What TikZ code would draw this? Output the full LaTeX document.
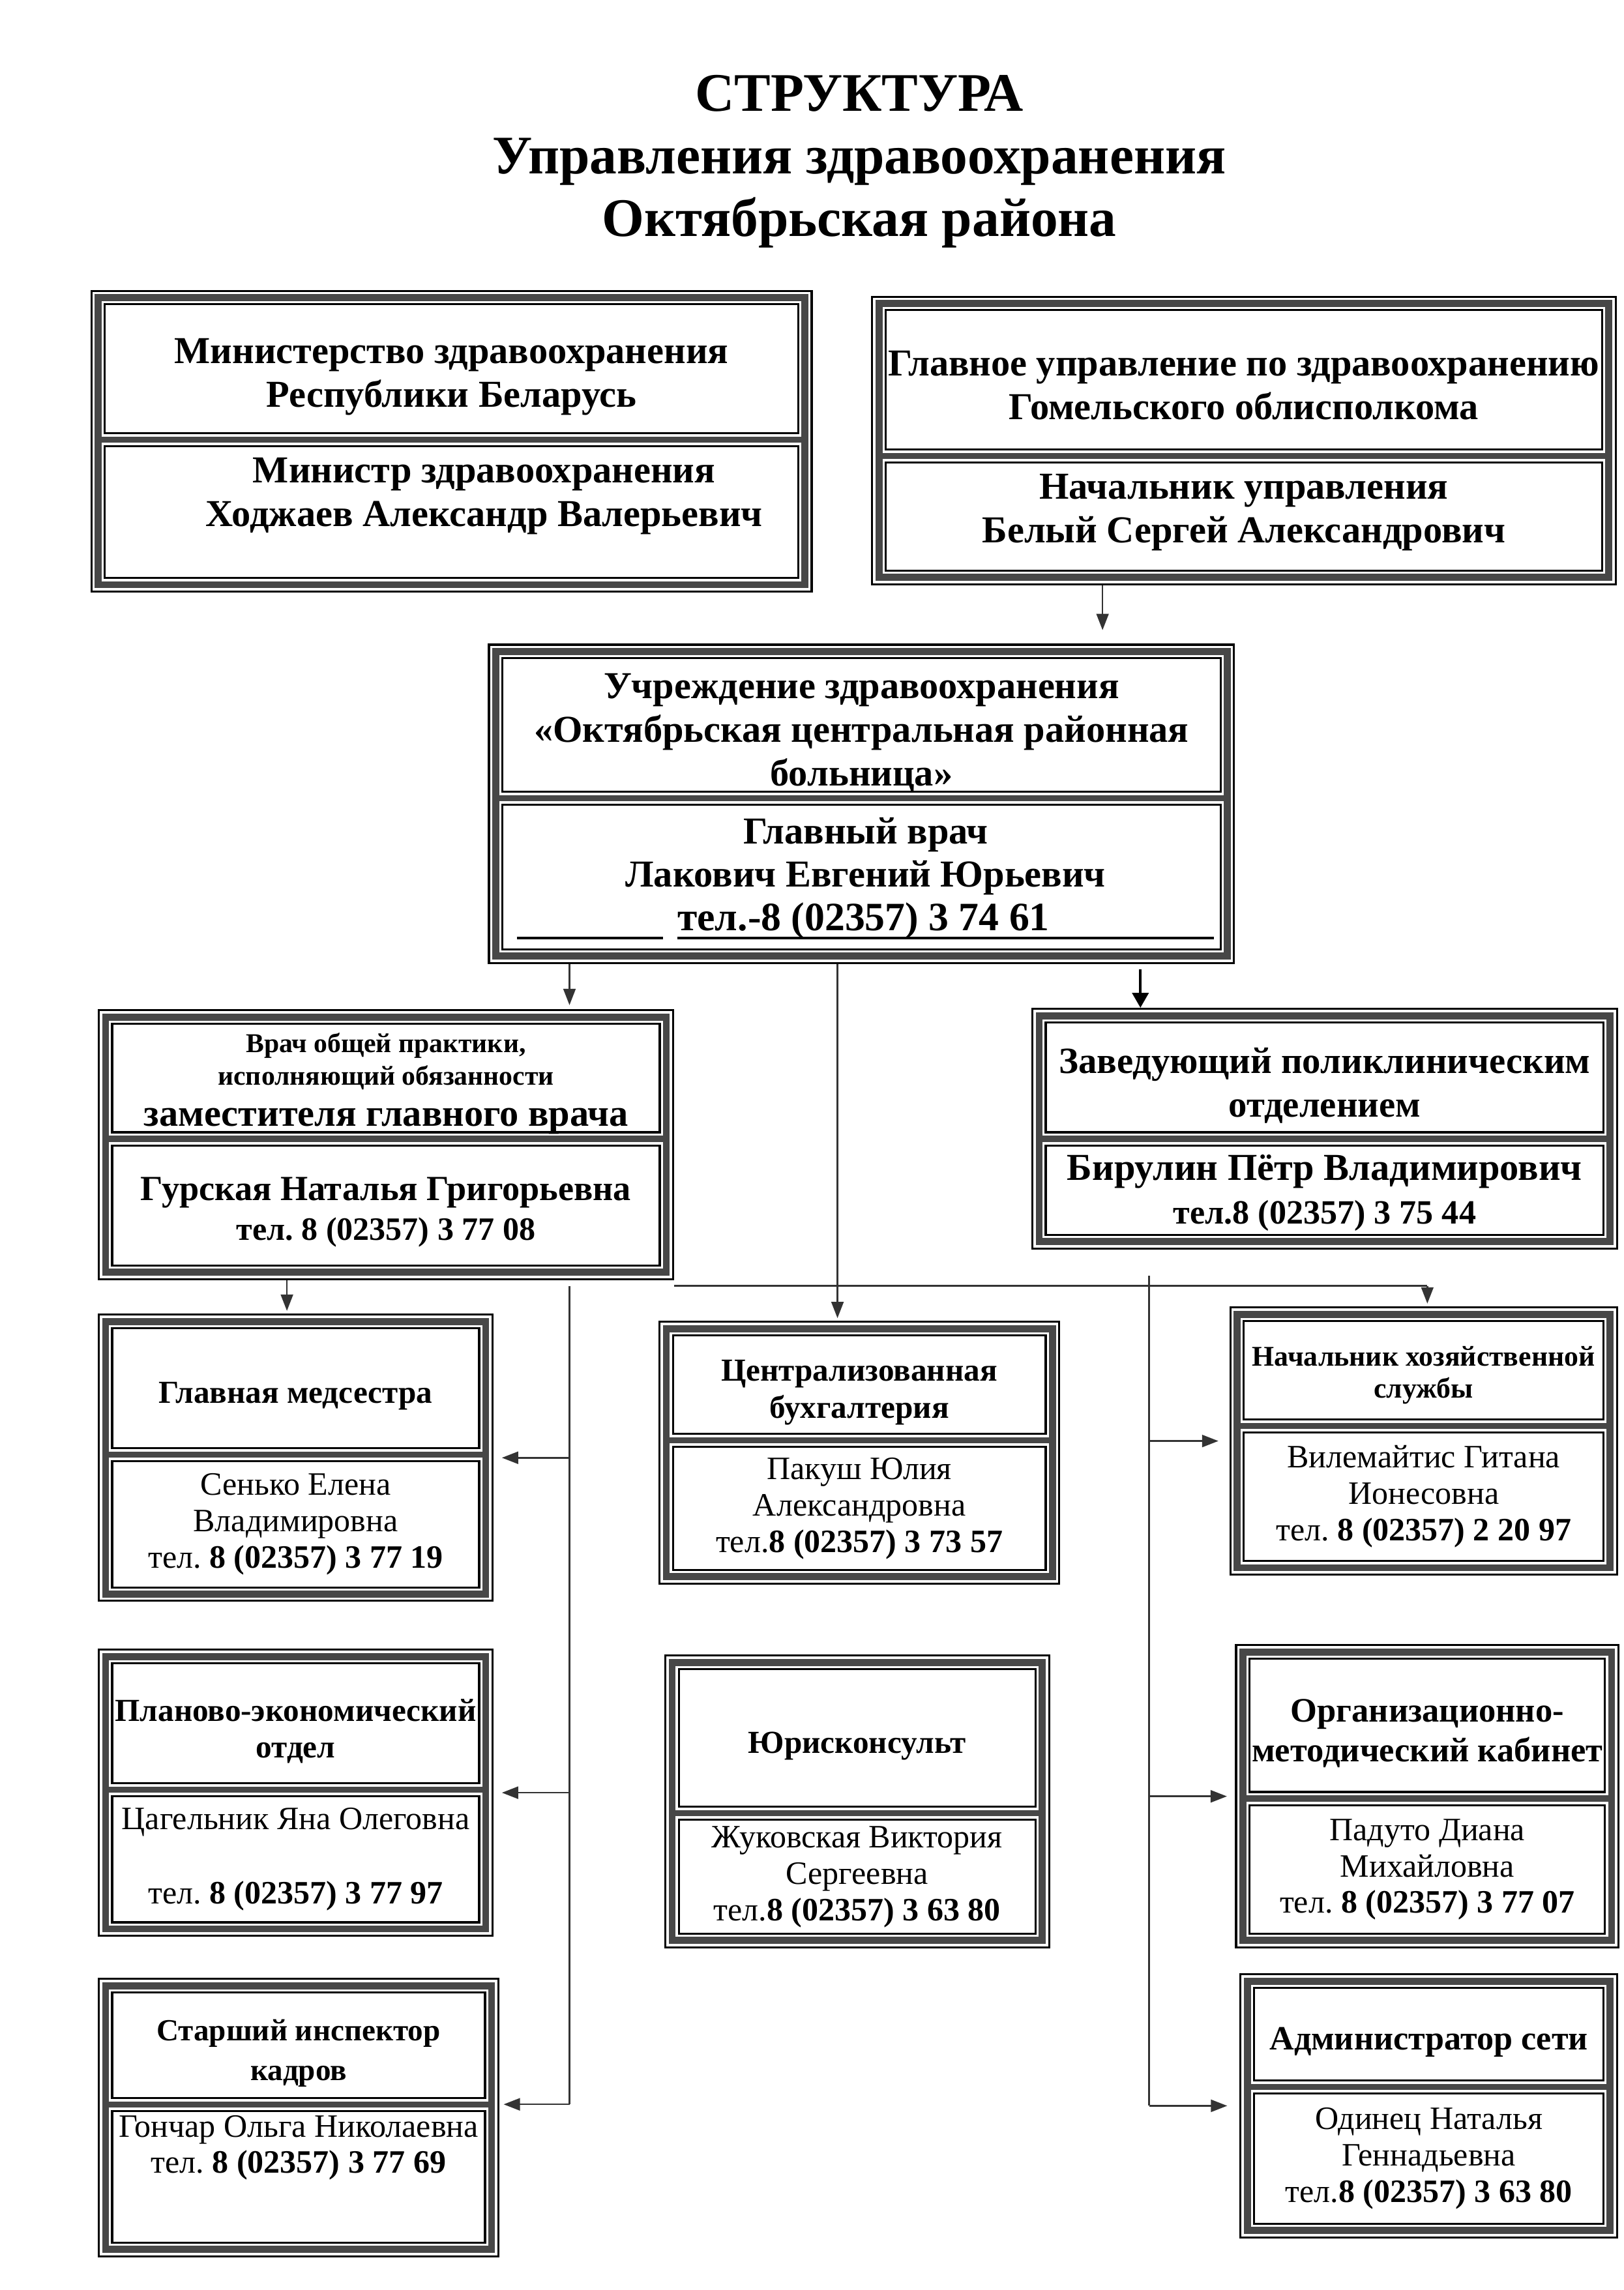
\documentclass[tikz,border=0pt]{standalone}
\usepackage{fontspec}
\setmainfont{Liberation Serif}
\usetikzlibrary{fit,arrows.meta}

\newcommand{\fBig}{\fontsize{14}{16}\selectfont\bfseries}
\newcommand{\fDep}{\fontsize{13}{14.5}\selectfont\bfseries}
\newcommand{\fMid}{\fontsize{11.8}{13.6}\selectfont\bfseries}
\newcommand{\fSml}{\fontsize{10.5}{11.8}\selectfont\bfseries}
\newcommand{\fReg}{\fontsize{12}{13.4}\selectfont}
\newcommand{\ulbox}[1]{\setbox0=\hbox{#1}\rlap{\rule[-3.2pt]{\wd0}{0.9pt}}\box0}

\tikzset{
  frame/.style={draw=black, line width=0.75pt, inner sep=0pt},
  cell/.style={draw=black, line width=0.75pt, inner sep=0pt},
  band/.style={draw=black!72, line width=2.6pt},
  txt/.style={align=center, inner sep=0pt, text=black},
  head/.style={txt, yshift=-3pt},
  conn/.style={draw=black!80, line width=0.6pt},
  arr/.style={conn, -{Triangle[length=6pt,width=4.5pt]}},
  bigarr/.style={draw=black, line width=1pt, -{Triangle[length=5.5pt,width=6pt]}},
}

% name, x1, y1, x2, ydiv, y2
\newcommand{\orgbox}[6]{%
  \node[frame, fit={({#2+0.7},{#3+0.7}) ({#4-0.7},{#6-0.7})}] (#1) {};
  \draw[band] ({#2+5.5},{#3+5.5}) rectangle ({#4-5.5},{#6-5.5});
  \draw[band, line width=2.2pt] ({#2+5.5},#5) -- ({#4-5.5},#5);
  \node[cell, fit={({#2+10},{#3+10}) ({#4-10},{#5-4.5})}] (#1-t) {};
  \node[cell, fit={({#2+10},{#5+4.5}) ({#4-10},{#6-10})}] (#1-b) {};
}

\begin{document}
\frenchspacing
\begin{tikzpicture}[x=0.018834cm, y=-0.018834cm]
\path[use as bounding box, fill=white] (0,0) rectangle (1115,1572.5);

% title
\node[txt, font=\fontsize{20}{23}\selectfont\bfseries] (title) at (590,111)
  {СТРУКТУРА\\Управления здравоохранения\\Октябрьская района};

% boxes
\orgbox{min}{62}{199}{558}{302}{407}
\orgbox{gom}{598}{203}{1110}{313}{402}
\orgbox{hosp}{335}{442}{848}{548}{662}
\orgbox{dep}{67}{693}{463}{782}{879}
\orgbox{poly}{708}{692}{1111}{782}{858}
\orgbox{med}{67}{902}{339}{999}{1100}
\orgbox{acc}{452}{907}{728}{989}{1088}
\orgbox{hoz}{844}{897}{1111}{979}{1082}
\orgbox{plan}{67}{1132}{339}{1229}{1330}
\orgbox{jur}{456}{1136}{721}{1245}{1338}
\orgbox{org}{848}{1129}{1112}{1235}{1338}
\orgbox{kad}{67}{1358}{343}{1445}{1550}
\orgbox{adm}{851}{1355}{1111}{1433}{1537}

% texts
\node[head, font=\fBig] (min-tx) at (min-t) {Министерство здравоохранения\\Республики Беларусь};
\node[txt, font=\fBig] (min-bx) at ([xshift=12pt, yshift=6pt]min-b.center) {Министр здравоохранения\\Ходжаев Александр Валерьевич};
\node[head, font=\fBig, yshift=1pt] (gom-tx) at (gom-t) {Главное управление по здравоохранению\\Гомельского облисполкома};
\node[txt, font=\fBig] (gom-bx) at ([yshift=1.5pt]gom-b.center) {Начальник управления\\Белый Сергей Александрович};
\node[head, font=\fBig] (hosp-tx) at (hosp-t) {Учреждение здравоохранения\\«Октябрьская центральная районная\\больница»};
\node[txt, font=\fBig] (hosp-bx) at ([xshift=1.5pt, yshift=-0.5pt]hosp-b.center) {Главный врач\\Лакович Евгений Юрьевич\\
  \rule[-3.2pt]{53.6pt}{0.9pt}\hspace{5.4pt}\ulbox{\fontsize{14.8}{16}\selectfont тел.-8 (02357) 3 74 61}\rule[-3.2pt]{60.5pt}{0.9pt}};
\node[head, yshift=1pt] (dep-tx) at (dep-t) {{\fontsize{10}{11.8}\selectfont\bfseries Врач общей практики,}\\
  {\fontsize{10}{11.8}\selectfont\bfseries исполняющий обязанности}\\[3pt]
  {\fBig заместителя главного врача}};
\node[txt, font=\fDep] (dep-bx) at ([yshift=-2.5pt]dep-b.center) {Гурская Наталья Григорьевна\\{\fontsize{12}{14.5}\selectfont\bfseries тел. 8 (02357) 3 77 08}};
\node[head, font=\fontsize{13.6}{16}\selectfont\bfseries] (poly-tx) at (poly-t) {Заведующий поликлиническим\\отделением};
\node[txt, font=\fBig] (poly-bx) at ([yshift=-1pt]poly-b.center) {Бирулин Пётр Владимирович\\{\fontsize{12.5}{16}\selectfont\bfseries тел.8 (02357) 3 75 44}};
\node[head, font=\fMid] (med-tx) at (med-t) {Главная медсестра};
\node[txt, font=\fReg] (med-bx) at (med-b) {Сенько Елена\\Владимировна\\тел. \textbf{8 (02357) 3 77 19}};
\node[head, font=\fMid] (acc-tx) at (acc-t) {Централизованная\\бухгалтерия};
\node[txt, font=\fReg] (acc-bx) at (acc-b) {Пакуш Юлия\\Александровна\\тел.\textbf{8 (02357) 3 73 57}};
\node[head, font=\fSml, yshift=1pt] (hoz-tx) at (hoz-t) {Начальник хозяйственной\\службы};
\node[txt, font=\fReg] (hoz-bx) at (hoz-b) {Вилемайтис Гитана\\Ионесовна\\тел. \textbf{8 (02357) 2 20 97}};
\node[head, font=\fMid] (plan-tx) at (plan-t) {Планово-экономический\\отдел};
\node[txt, font=\fReg] (plan-bx) at (plan-b) {Цагельник Яна Олеговна\\[14pt]тел. \textbf{8 (02357) 3 77 97}};
\node[head, font=\fontsize{11.3}{14.5}\selectfont\bfseries] (kad-tx) at (kad-t) {Старший инспектор\\кадров};
\node[txt, font=\fReg] (kad-bx) at ([yshift=10.7pt]kad-b.center) {Гончар Ольга Николаевна\\тел. \textbf{8 (02357) 3 77 69}};
\node[head, font=\fMid] (jur-tx) at (jur-t) {Юрисконсульт};
\node[txt, font=\fReg] (jur-bx) at (jur-b) {Жуковская Виктория\\Сергеевна\\тел.\textbf{8 (02357) 3 63 80}};
\node[head, font=\fontsize{12.6}{14.5}\selectfont\bfseries] (org-tx) at (org-t) {Организационно-\\методический кабинет};
\node[txt, font=\fReg] (org-bx) at (org-b) {Падуто Диана\\Михайловна\\тел. \textbf{8 (02357) 3 77 07}};
\node[head, font=\fontsize{12.5}{14.5}\selectfont\bfseries] (adm-tx) at (adm-t) {Администратор сети};
\node[txt, font=\fReg] (adm-bx) at (adm-b) {Одинец Наталья\\Геннадьевна\\тел.\textbf{8 (02357) 3 63 80}};

% connector helper coordinates
\coordinate (xg) at (757,0);
\coordinate (x391) at (391,0);
\coordinate (x575) at (575,0);
\coordinate (x783) at (783,0);
\coordinate (x197) at (197,0);
\coordinate (busL) at (463,883);
\coordinate (busR) at (980,883);
\coordinate (lt) at (391,883);
\coordinate (lb) at (391,1445);
\coordinate (rt) at (789,876);
\coordinate (rb) at (789,1446);

% connectors
\draw[arr, shorten >=5pt] (gom.south -| xg) -- (hosp.north -| xg);
\draw[arr, shorten >=1.5pt] (hosp.south -| x391) -- (dep.north -| x391);
\draw[arr, shorten >=1pt] (hosp.south -| x575) -- (acc.north -| x575);
\draw[bigarr, shorten <=2pt] (hosp.south -| x783) -- (poly.north -| x783);
\draw[arr, shorten >=1pt] (dep.south -| x197) -- (med.north -| x197);
\draw[conn] (busL) -- (busR);
\draw[arr, shorten >=1pt] (busR) -- (hoz.north -| busR);
\draw[conn] (lt) -- (lb);
\draw[arr, shorten >=3pt] (lt |- med.east) -- (med.east);
\draw[arr, shorten >=3pt] (lt |- plan.east) -- (plan.east);
\draw[arr, shorten >=1.5pt] (lb) -- (lb -| kad.east);
\draw[conn] (rt) -- (rb);
\draw[arr, shorten >=4pt] (rt |- hoz.west) -- (hoz.west);
\draw[arr, shorten >=3pt] (rt |- org.west) -- (org.west);
\draw[arr, shorten >=4.5pt] (rb) -- (rb -| adm.west);
\end{tikzpicture}
\end{document}
